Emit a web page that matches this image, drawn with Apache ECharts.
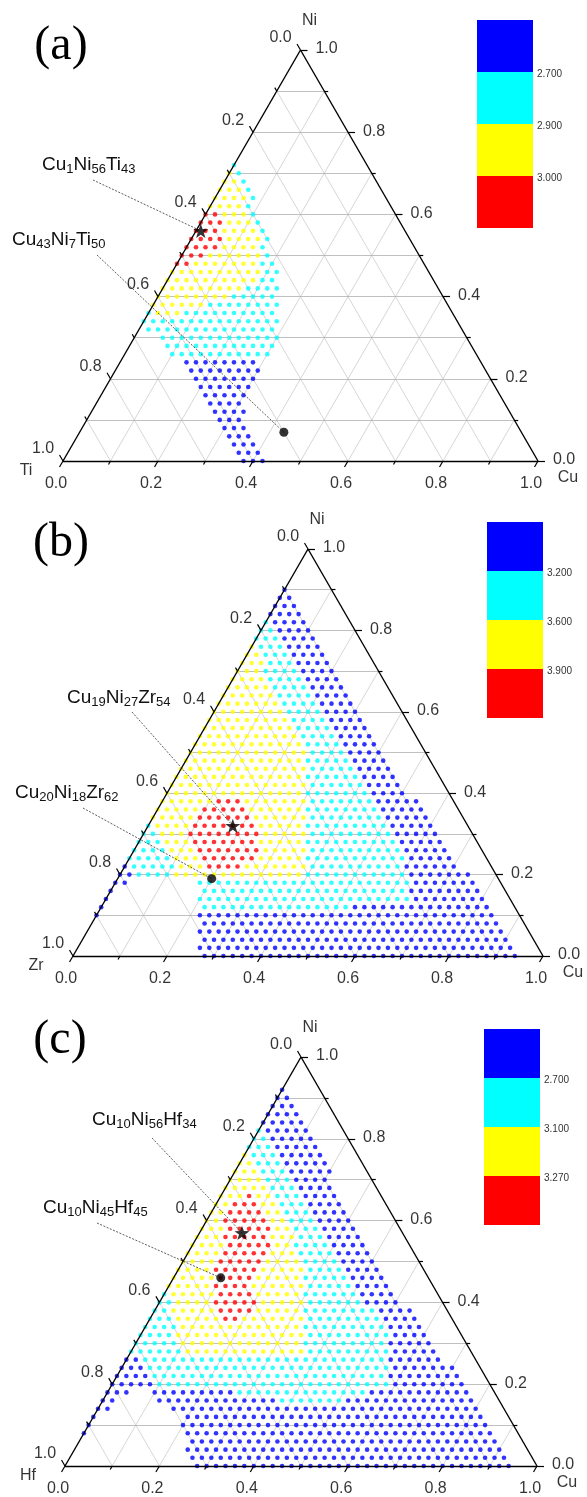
<!DOCTYPE html>
<html>
<head>
<meta charset="utf-8">
<title>ternary</title>
<script src="https://cdn.jsdelivr.net/npm/echarts@6/dist/echarts.min.js"></script>
<style>body{margin:0;background:#fff}#main{width:587px;height:1497px}</style>
</head>
<body>
<div id="main"></div>
<script>
// dot runs: [Ni %, Cu from %, Cu to %], grid step 2 %
var aBlue = [[0,38,42],[2,36,40],[4,34,38],[6,32,36],[8,30,34],[10,28,32],[12,26,32],[14,24,30],[16,22,30],[18,20,30],[20,18,30],[22,16,30],[24,14,28]];
var aCyan = [[26,10,30],[28,8,30],[30,6,30],[32,2,28],[34,0,28],[36,0,0],[36,8,26],[38,12,26],[40,16,24],[42,18,24],[44,20,22],[46,20,22],[48,18,20],[50,18,18],[52,16,16],[54,16,16],[56,14,14],[58,12,12],[60,10,10],[62,8,8],[64,8,8],[66,6,6],[68,4,4],[70,2,2],[72,0,0]];
var aYellow = [[36,2,6],[38,0,10],[40,0,14],[42,0,16],[44,0,18],[46,0,18],[48,4,16],[50,6,16],[52,8,14],[54,8,14],[56,6,12],[58,6,10],[60,4,8],[62,0,6],[64,0,6],[66,0,4],[68,0,2],[70,0,0]];
var aRed = [[48,0,2],[50,0,4],[52,0,6],[54,0,6],[56,0,4],[58,0,4],[60,0,2]];

var bBlue = [[0,28,94],[2,26,92],[4,26,90],[6,24,88],[8,24,86],[10,0,0],[10,22,84],[12,0,0],[12,54,82],[14,0,0],[14,66,80],[16,0,0],[16,64,78],[18,0,2],[18,64,76],[20,0,2],[20,62,74],[22,0,0],[22,60,70],[24,60,68],[26,58,66],[28,56,64],[30,54,62],[32,52,60],[34,50,58],[36,48,56],[38,46,54],[40,44,50],[42,42,48],[44,40,46],[46,38,44],[48,36,42],[50,34,40],[52,32,38],[54,30,36],[56,28,34],[58,26,32],[60,24,30],[62,22,28],[64,20,26],[66,18,24],[68,16,22],[70,14,20],[72,12,18],[74,10,16],[76,8,14],[78,6,12],[80,4,10],[82,2,8],[84,0,6],[86,0,4],[88,0,2],[90,0,0]];
var bCyan = [[12,22,52],[14,20,64],[16,20,62],[18,18,62],[20,4,10],[20,40,60],[22,2,10],[22,40,58],[24,0,8],[24,38,58],[26,0,6],[26,38,56],[28,0,4],[28,36,54],[30,0,2],[30,36,52],[32,0,0],[32,34,50],[34,34,48],[36,32,46],[38,32,44],[40,30,42],[42,30,40],[44,28,38],[46,28,36],[48,26,34],[50,26,32],[52,24,30],[54,22,28],[56,20,26],[58,18,24],[60,16,22],[62,14,20],[64,12,18],[66,10,16],[68,8,14],[70,6,12],[72,6,10],[74,4,8],[76,2,6],[78,0,4],[80,0,2],[82,0,0]];
var bYellow = [[20,12,38],[22,12,16],[22,26,38],[24,10,14],[24,28,36],[26,8,12],[26,28,36],[28,6,10],[28,26,34],[30,4,8],[30,26,34],[32,2,8],[32,24,32],[34,0,8],[34,22,32],[36,0,8],[36,20,30],[38,0,10],[38,18,30],[40,0,28],[42,0,28],[44,0,26],[46,0,26],[48,0,24],[50,0,24],[52,0,22],[54,0,20],[56,0,18],[58,0,16],[60,0,14],[62,0,12],[64,0,10],[66,0,8],[68,0,6],[70,0,4],[72,0,4],[74,0,2],[76,0,0]];
var bRed = [[22,18,24],[24,16,26],[26,14,26],[28,12,24],[30,10,24],[32,10,22],[34,10,20],[36,10,18],[38,12,16]];

var cBlue = [[0,28,94],[2,26,92],[4,24,90],[6,24,88],[8,0,0],[8,22,86],[10,0,0],[10,20,84],[12,0,0],[12,20,82],[14,0,2],[14,16,80],[16,0,2],[16,12,36],[16,52,78],[18,0,4],[18,10,26],[18,56,76],[20,0,8],[20,60,74],[22,0,6],[22,58,72],[24,0,4],[24,58,70],[26,0,2],[26,56,66],[28,56,64],[30,54,62],[32,54,60],[34,52,58],[36,50,56],[38,48,54],[40,44,50],[42,42,48],[44,40,46],[46,38,44],[48,36,42],[50,34,40],[52,32,38],[54,30,36],[56,28,34],[58,26,32],[60,24,30],[62,22,28],[64,20,26],[66,18,24],[68,16,22],[70,14,20],[72,12,20],[74,10,18],[76,8,16],[78,6,14],[80,4,12],[82,2,10],[84,0,8],[86,0,6],[88,0,4],[90,0,2],[92,0,0]];
var cCyan = [[16,38,50],[18,28,54],[20,10,58],[22,8,56],[24,6,56],[26,4,54],[28,0,10],[28,38,54],[30,0,8],[30,36,52],[32,0,6],[32,36,52],[34,0,6],[34,34,50],[36,0,4],[36,34,48],[38,0,2],[38,32,46],[40,0,2],[40,32,42],[42,0,0],[42,30,40],[44,30,38],[46,28,36],[48,28,34],[50,26,32],[52,24,30],[54,22,28],[56,22,26],[58,20,24],[60,18,22],[62,16,20],[64,14,18],[66,12,16],[68,10,14],[70,8,12],[72,6,10],[74,4,8],[76,2,6],[78,0,4],[80,0,2],[82,0,0]];
var cYellow = [[28,12,36],[30,10,34],[32,8,34],[34,8,32],[36,6,14],[36,20,32],[38,4,12],[38,22,30],[40,4,10],[40,22,30],[42,2,10],[42,20,28],[44,0,8],[44,18,28],[46,0,8],[46,18,26],[48,0,6],[48,18,26],[50,0,6],[50,18,24],[52,0,6],[52,18,22],[54,0,6],[54,18,20],[56,0,4],[56,16,20],[58,0,4],[58,16,18],[60,0,2],[60,14,16],[62,0,2],[62,12,14],[64,0,2],[64,10,12],[66,0,4],[66,8,10],[68,0,8],[70,0,6],[72,0,4],[74,0,2],[76,0,0]];
var cRed = [[36,16,18],[38,14,20],[40,12,20],[42,12,18],[44,10,16],[46,10,16],[48,8,16],[50,8,16],[52,8,16],[54,8,16],[56,6,14],[58,6,14],[60,4,12],[62,4,10],[64,4,8],[66,6,6]];

// marked alloys [Cu %, Ni %] and their captions
var aStar = [1,56], aDot = [43,7];
var bStar = [18,32], bDot = [20,19];
var cStar = [9,57], cDot = [10,46];
var aNotes = ['Cu1Ni56Ti43', 'Cu43Ni7Ti50'];
var bNotes = ['Cu19Ni27Zr54', 'Cu20Ni18Zr62'];
var cNotes = ['Cu10Ni56Hf34', 'Cu10Ni45Hf45'];

// axes
var gridSteps = [0.1,0.2,0.3,0.4,0.5,0.6,0.7,0.8,0.9];
var tickSteps = [0,0.1,0.2,0.3,0.4,0.5,0.6,0.7,0.8,0.9,1];
var tickLabels = ['0.0','0.2','0.4','0.6','0.8','1.0'];
var cornerNames = [['Ni','Ti','Cu'], ['Ni','Zr','Cu'], ['Ni','Hf','Cu']];
var panelTags = ['(a)','(b)','(c)'];

// colour scale levels
var aLevels = ['2.700','2.900','3.000'];
var bLevels = ['3.200','3.600','3.900'];
var cLevels = ['2.700','3.100','3.270'];
var levelColors = ['#0000ff','#00ffff','#ffff00','#ff0000'];

// layout (pixels)
var panels = [
  {x0:63, y0:461, w:475, h:411, runs:[aBlue,aCyan,aYellow,aRed], star:aStar, dot:aDot, notes:aNotes, levels:aLevels,
   tag:[61,46], noteAt:[[42,165,93,180],[12,240,97,255]], legend:[477,20,56,52]},
  {x0:73, y0:956, w:470, h:407, runs:[bBlue,bCyan,bYellow,bRed], star:bStar, dot:bDot, notes:bNotes, levels:bLevels,
   tag:[61,543], noteAt:[[67,698,132,712],[15,793,83,808]], legend:[487,522,56,49]},
  {x0:65, y0:1466, w:472, h:409, runs:[cBlue,cCyan,cYellow,cRed], star:cStar, dot:cDot, notes:cNotes, levels:cLevels,
   tag:[60,1040], noteAt:[[92,1120,152,1138],[43,1208,97,1223]], legend:[484,1029,56,49]}
];

var FONT = '"Liberation Sans", Arial, sans-serif';
var STAR = 'path://M0,-10L2.35,-3.24L9.51,-3.09L3.8,1.24L5.88,8.09L0,4L-5.88,8.09L-3.8,1.24L-9.51,-3.09L-2.35,-3.24Z';

function tern(cu, ni) { return [cu + ni / 2, ni]; }
function expand(runs) {
  var pts = [];
  runs.forEach(function (r) {
    for (var cu = r[1]; cu <= r[2]; cu += 2) pts.push(tern(cu / 100, r[0] / 100));
  });
  return pts;
}
function subText(t) {
  return t.replace(/([A-Za-z]+)/g, '{m|$1}').replace(/(\d+)/g, '{s|$1}');
}

var grids = [], xAxes = [], yAxes = [], series = [], graphics = [];

panels.forEach(function (p, i) {
  grids.push({left: p.x0, top: p.y0 - p.h, width: p.w, height: p.h});
  xAxes.push({type: 'value', gridIndex: i, min: 0, max: 1, show: false});
  yAxes.push({type: 'value', gridIndex: i, min: 0, max: 1, show: false});
  var ax = {xAxisIndex: i, yAxisIndex: i};
  function px2val(px, py) { return [(px - p.x0) / p.w, (p.y0 - py) / p.h]; }
  function lines(data, style, z) {
    series.push(Object.assign({type: 'lines', coordinateSystem: 'cartesian2d', clip: false, silent: true,
      z: z, data: data, lineStyle: style, symbol: 'none'}, ax));
  }

  // grid lines
  var hor = [], diag = [];
  gridSteps.forEach(function (v) {
    hor.push({coords: [tern(0, v), tern(1 - v, v)]});
    diag.push({coords: [tern(v, 0), tern(v, 1 - v)]});
    diag.push({coords: [tern(1 - v, 0), tern(0, 1 - v)]});
  });
  lines(diag, {color: '#c4c4c4', width: 0.7, opacity: 1}, 1);
  lines(hor, {color: '#b0b0b0', width: 0.8, opacity: 1}, 1);

  // dots
  p.runs.forEach(function (r, c) {
    series.push(Object.assign({type: 'scatter', clip: false, silent: true, z: 2, symbolSize: 4.6,
      itemStyle: {color: levelColors[c]}, data: expand(r)}, ax));
  });

  // frame and ticks
  lines([{coords: [tern(0, 0), tern(1, 0)]}, {coords: [tern(1, 0), tern(0, 1)]}, {coords: [tern(0, 1), tern(0, 0)]}],
    {color: '#000', width: 1.4, opacity: 1}, 3);
  var tk = [];
  tickSteps.forEach(function (v, j) {
    var d = (j % 2 === 0 ? 7 : 4) / p.w;
    tk.push({coords: [tern(v, 0), tern(v, -d)]});
    tk.push({coords: [tern(1 - v, v), tern(1 - v + d, v)]});
    tk.push({coords: [tern(0, 1 - v), tern(-d, 1 - v + d)]});
  });
  lines(tk, {color: '#000', width: 1.2, opacity: 1}, 3);

  // tick labels and corner names
  var lab = [];
  tickLabels.forEach(function (t, j) {
    var v = j * 0.2;
    lab.push({name: t, value: tern(v, 0), label: {offset: [-7, 23]}});
    lab.push({name: t, value: tern(0, 1 - v), label: {offset: [-20, -12]}});
    lab.push({name: t, value: tern(1 - v, v), label: {offset: [26, -1]}});
  });
  var cn = cornerNames[i];
  lab.push({name: cn[0], value: tern(0, 1), label: {offset: [9, -29]}});
  lab.push({name: cn[1], value: tern(0, 0), label: {offset: [-37, 10]}});
  lab.push({name: cn[2], value: tern(1, 0), label: {offset: [30, 17]}});
  series.push(Object.assign({type: 'scatter', clip: false, silent: true, z: 5, symbolSize: 1,
    itemStyle: {color: 'rgba(0,0,0,0)'}, data: lab,
    label: {show: true, position: 'inside', formatter: '{b}', color: '#000', fontSize: 16, fontFamily: FONT}}, ax));

  // leaders and markers
  var sPt = tern(p.star[0] / 100, p.star[1] / 100), dPt = tern(p.dot[0] / 100, p.dot[1] / 100);
  lines([{coords: [px2val(p.noteAt[0][2], p.noteAt[0][3]), sPt]}, {coords: [px2val(p.noteAt[1][2], p.noteAt[1][3]), dPt]}],
    {color: '#333', width: 0.8, type: [2, 1.5], opacity: 1}, 4);
  series.push(Object.assign({type: 'scatter', clip: false, silent: true, z: 6, symbol: STAR, symbolKeepAspect: true,
    symbolSize: 15, itemStyle: {color: '#000'}, data: [sPt]}, ax));
  series.push(Object.assign({type: 'scatter', clip: false, silent: true, z: 6, symbolSize: 9,
    itemStyle: {color: '#000'}, data: [dPt]}, ax));

  // captions
  p.notes.forEach(function (t, j) {
    graphics.push({type: 'text', x: p.noteAt[j][0], y: p.noteAt[j][1], z: 10, silent: true,
      style: {text: subText(t), align: 'left', verticalAlign: 'middle', fill: '#111',
        rich: {m: {fontSize: 19, fontFamily: FONT, lineHeight: 22, fill: '#111'},
               s: {fontSize: 13, fontFamily: FONT, lineHeight: 14, verticalAlign: 'bottom', fill: '#111'}}}});
  });

  // panel tag
  graphics.push({type: 'text', x: p.tag[0], y: p.tag[1], z: 10, silent: true,
    style: {text: panelTags[i], align: 'center', verticalAlign: 'middle', fill: '#000',
      font: '48px "Liberation Serif", "Times New Roman", serif'}});

  // colour scale
  var lg = p.legend;
  levelColors.forEach(function (col, j) {
    graphics.push({type: 'rect', z: 10, silent: true,
      shape: {x: lg[0], y: lg[1] + j * lg[3], width: lg[2], height: lg[3]}, style: {fill: col}});
  });
  p.levels.forEach(function (t, j) {
    graphics.push({type: 'text', x: lg[0] + lg[2] + 4, y: lg[1] + (j + 1) * lg[3] + 2, z: 10, silent: true,
      style: {text: t, align: 'left', verticalAlign: 'middle', fill: '#333', font: '10px ' + FONT}});
  });
});

var chart = echarts.init(document.getElementById('main'));
chart.setOption({
  animation: false,
  backgroundColor: '#fff',
  grid: grids,
  xAxis: xAxes,
  yAxis: yAxes,
  series: series,
  graphic: graphics
});
</script>
</body>
</html>
